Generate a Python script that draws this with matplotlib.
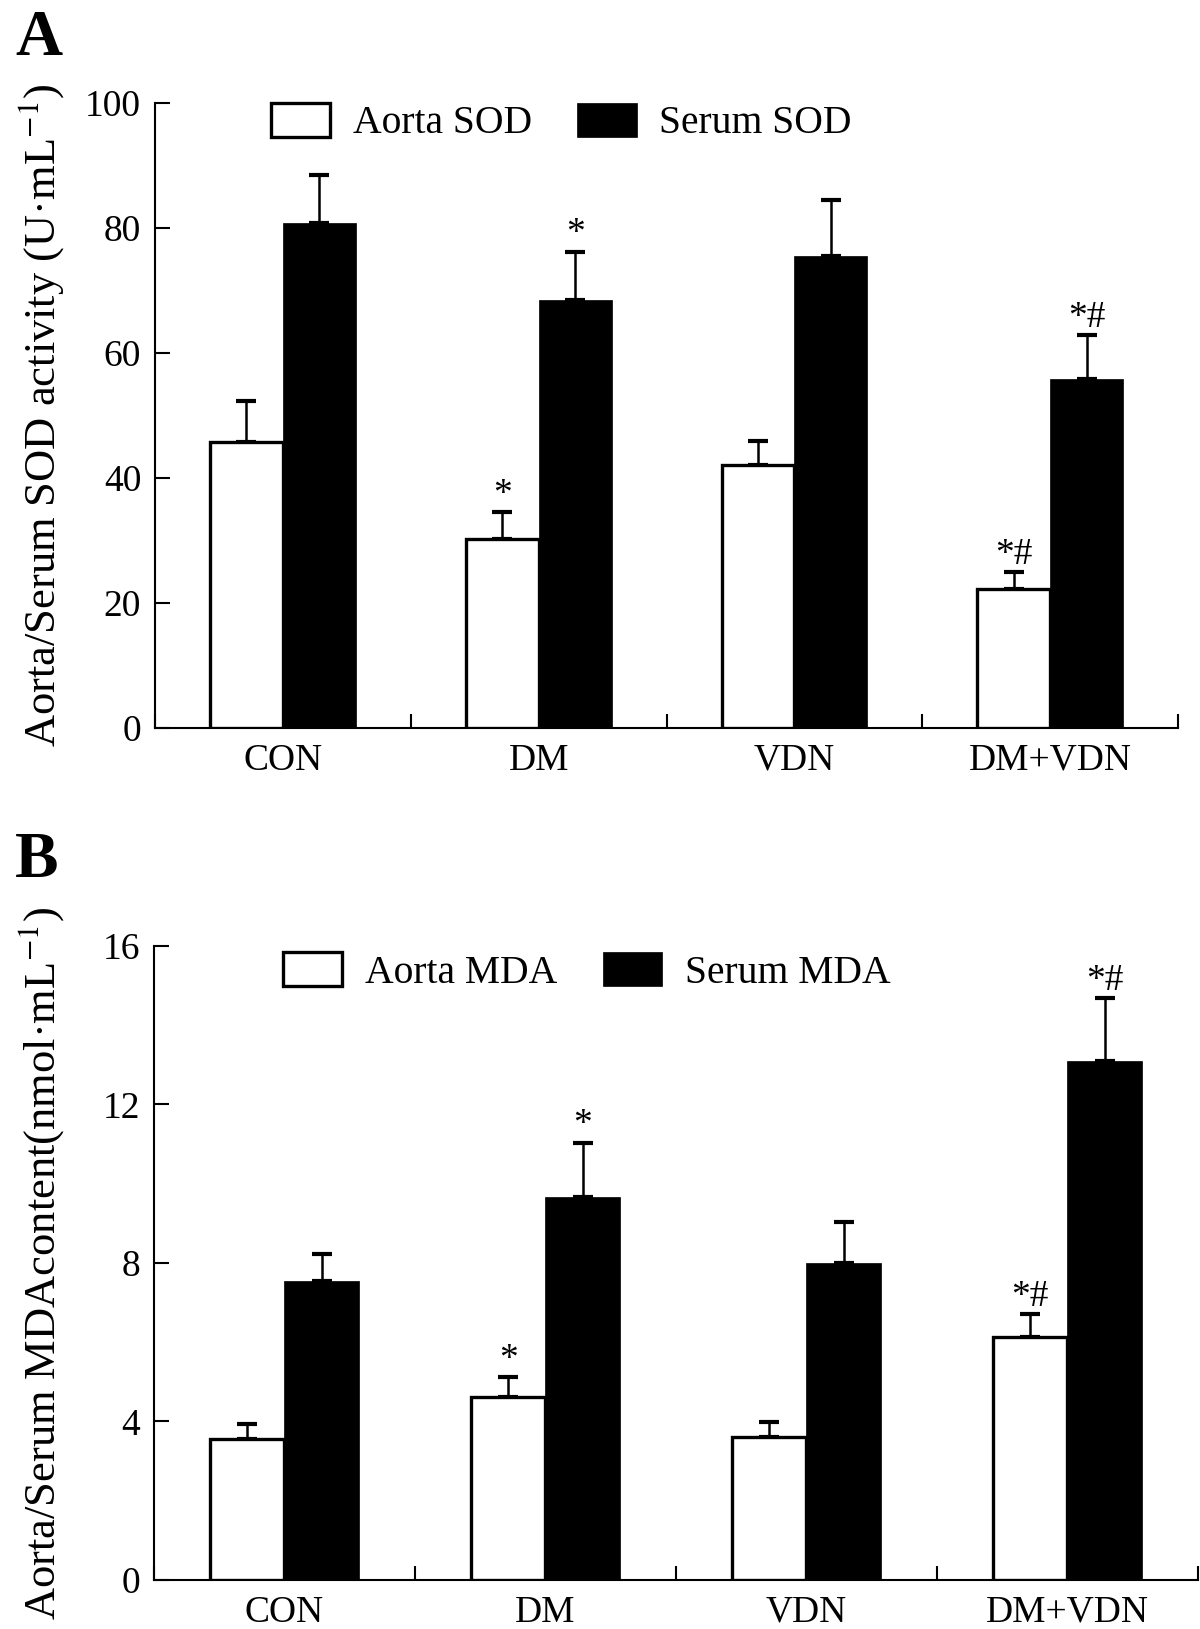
import matplotlib
matplotlib.use("Agg")
import matplotlib.pyplot as plt
import numpy as np

plt.rcParams['font.family'] = ['Liberation Serif', 'DejaVu Serif']
plt.rcParams['mathtext.fontset'] = 'stix'

groups = ['CON', 'DM', 'VDN', 'DM+VDN']

# panel A: SOD activity (U/mL)
sod_aorta = [45.8, 30.2, 42.0, 22.3]
sod_aorta_err = [6.5, 4.3, 3.9, 2.6]
sod_serum = [80.8, 68.5, 75.5, 55.9]
sod_serum_err = [7.7, 7.7, 9.0, 7.0]
sod_aorta_sig = ['', '*', '', '*#']
sod_serum_sig = ['', '*', '', '*#']

# panel B: MDA content (nmol/mL)
mda_aorta = [3.55, 4.63, 3.62, 6.14]
mda_aorta_err = [0.39, 0.48, 0.36, 0.56]
mda_serum = [7.55, 9.67, 7.99, 13.10]
mda_serum_err = [0.68, 1.37, 1.05, 1.58]
mda_aorta_sig = ['', '*', '', '*#']
mda_serum_sig = ['', '*', '', '*#']

W = 0.285


def panel(ax, aorta, aorta_err, serum, serum_err, sig_a, sig_s,
          ymax, yticks, ylabel, names, leg_xy, lab_x):
    x = np.arange(len(groups)) + 0.5
    b1 = ax.bar(x - W / 2, aorta, W, color='white', edgecolor='black',
                linewidth=2.4, zorder=3, label=names[0])
    b2 = ax.bar(x + W / 2, serum, W, color='black', edgecolor='black',
                linewidth=0.5, zorder=3, label=names[1])
    z = np.zeros(len(groups))
    ax.errorbar(x - W / 2, aorta, yerr=[z, aorta_err], fmt='none',
                ecolor='black', elinewidth=1.8, capsize=7, capthick=3, zorder=2)
    ax.errorbar(x + W / 2, serum, yerr=[z, serum_err], fmt='none',
                ecolor='black', elinewidth=1.8, capsize=7, capthick=3, zorder=2)

    # significance marks above the caps
    for xs, vals, errs, sigs in [(x - W / 2, aorta, aorta_err, sig_a),
                                 (x + W / 2, serum, serum_err, sig_s)]:
        for xi, v, e, s in zip(xs, vals, errs, sigs):
            if s:
                ax.annotate(s, (xi, v + e), xytext=(0, 6),
                            textcoords='offset points',
                            ha='center', va='baseline', fontsize=27)

    ax.set_xlim(0, len(groups))
    ax.set_ylim(0, ymax)
    ax.set_yticks(yticks)
    ax.set_xticks(np.arange(len(groups) + 1))
    ax.set_xticklabels([])
    ax.set_xticks(x, minor=True)
    ax.set_xticklabels(groups, minor=True)
    ax.tick_params(axis='x', which='major', direction='in', length=10, width=1.5)
    ax.tick_params(axis='x', which='minor', length=0, pad=11, labelsize=27)
    ax.tick_params(axis='y', direction='in', length=11, width=1.5, pad=10,
                   labelsize=27)
    for sp in ['top', 'right']:
        ax.spines[sp].set_visible(False)
    for sp in ['left', 'bottom']:
        ax.spines[sp].set_linewidth(1.5)
    ax.set_ylabel(ylabel, fontsize=32)
    ax.yaxis.set_label_coords(lab_x, 0.5)
    ax.legend(handles=[b1, b2], loc='upper left', bbox_to_anchor=leg_xy,
              ncol=2, frameon=False, fontsize=28.5, handlelength=1.5,
              handleheight=0.93, handletextpad=0.57, columnspacing=1.15,
              borderpad=0, borderaxespad=0)


fig = plt.figure(figsize=(12, 16.29), dpi=100)
axA = fig.add_axes([0.1292, 0.5531, 0.8525, 0.3837])
axB = fig.add_axes([0.1283, 0.0301, 0.8700, 0.3892])

panel(axA, sod_aorta, sod_aorta_err, sod_serum, sod_serum_err,
      sod_aorta_sig, sod_serum_sig, 100, [0, 20, 40, 60, 80, 100],
      'Aorta/Serum SOD activity (U·mL$^{-1}$)', ['Aorta SOD', 'Serum SOD'],
      (0.113, 1.0), -0.087)
panel(axB, mda_aorta, mda_aorta_err, mda_serum, mda_serum_err,
      mda_aorta_sig, mda_serum_sig, 16, [0, 4, 8, 12, 16],
      'Aorta/Serum MDAcontent(nmol·mL$^{-1}$)', ['Aorta MDA', 'Serum MDA'],
      (0.1236, 0.99), -0.084)

fig.text(15 / 1200, 1 - 55 / 1629, 'A', fontsize=47, fontweight='bold',
         va='baseline', ha='left')
fig.text(15 / 1200, 1 - 877 / 1629, 'B', fontsize=47, fontweight='bold',
         va='baseline', ha='left')

fig.savefig('out.png', dpi=100)
